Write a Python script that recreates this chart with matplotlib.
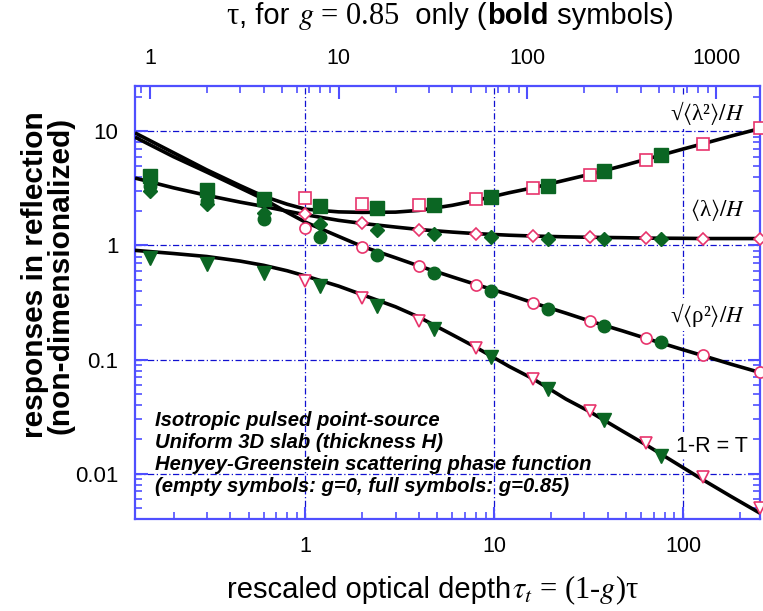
import matplotlib
matplotlib.use('Agg')
import matplotlib.pyplot as plt
from matplotlib.ticker import LogLocator, FixedLocator, FixedFormatter, NullFormatter
from matplotlib.offsetbox import TextArea, HPacker, AnchoredOffsetbox

plt.rcParams['font.family'] = ['Liberation Sans', 'DejaVu Sans']
plt.rcParams['mathtext.fontset'] = 'stix'

one_minus_g = 0.15   # g = 0.85 -> tau_t = 0.15 tau

# fitted curves, read along the rescaled optical depth tau_t
curve_x = [0.125, 0.2, 0.3, 0.45, 0.6, 0.8, 1, 1.5, 2, 3, 4, 6, 8, 12, 16, 24,
           32, 48, 64, 100, 128, 180, 256]
lam2_curve = [9.7, 6.5, 4.6, 3.35, 2.7, 2.3, 2.08, 1.97, 1.95, 1.96, 2.03, 2.25,
              2.48, 2.9, 3.2, 3.75, 4.2, 5.0, 5.7, 7.0, 7.8, 9.1, 10.6]
lam_curve = [3.9, 3.2, 2.75, 2.4, 2.2, 2.0, 1.86, 1.66, 1.56, 1.45, 1.38, 1.31,
             1.27, 1.23, 1.21, 1.19, 1.18, 1.17, 1.16, 1.155, 1.15, 1.15, 1.15]
rho_curve = [8.9, 6.0, 4.4, 3.2, 2.55, 1.95, 1.6, 1.2, 0.98, 0.78, 0.66, 0.53,
             0.455, 0.37, 0.315, 0.255, 0.218, 0.178, 0.153, 0.122, 0.108, 0.091, 0.077]
T_curve = [0.906, 0.85, 0.80, 0.73, 0.67, 0.60, 0.54, 0.44, 0.37, 0.29, 0.235, 0.165,
           0.128, 0.087, 0.068, 0.045, 0.035, 0.0235, 0.0178, 0.0113, 0.0088, 0.0063, 0.0045]

# g = 0 (empty symbols), tau_t = tau
tau_g0 = [1, 2, 4, 8, 16, 32, 64, 128, 256]
lam2_g0 = [2.61, 2.31, 2.28, 2.57, 3.19, 4.11, 5.65, 7.76, 10.8]
lam_g0 = [1.89, 1.57, 1.38, 1.27, 1.22, 1.19, 1.16, 1.15, 1.15]
rho_g0 = [1.42, 0.96, 0.656, 0.453, 0.313, 0.219, 0.155, 0.110, 0.0772]
T_g0 = [0.485, 0.347, 0.219, 0.125, 0.0676, 0.0356, 0.0186, 0.0093, 0.0050]

# g = 0.85 (full symbols), given in tau
tau_g85 = [1, 2, 4, 8, 16, 32, 64, 128, 256, 512]
lam2_g85 = [4.03, 3.08, 2.56, 2.23, 2.13, 2.25, 2.66, 3.34, 4.46, 6.16]
lam_g85 = [2.98, 2.32, 1.93, 1.55, 1.38, 1.27, 1.19, 1.14, 1.14, 1.15]
rho_g85 = [3.3, 2.47, 1.72, 1.18, 0.82, 0.574, 0.402, 0.278, 0.195, 0.1415]
T_g85 = [0.777, 0.689, 0.574, 0.438, 0.297, 0.187, 0.105, 0.0552, 0.0293, 0.0142]

top_ticks = [1, 10, 100, 1000]
bottom_ticks = [1, 10, 100]
y_ticks = [0.01, 0.1, 1, 10]
y_ticklabels = ['0.01', '0.1', '1', '10']

spine_blue = '#4f4fff'
grid_blue = '#1010d0'
green = '#0b6623'
pink = '#e8346c'

fig = plt.figure(figsize=(7.63, 6.11), dpi=100)
ax = fig.add_axes([135 / 763, 92 / 611, 625 / 763, 433 / 611])
ax.set_xscale('log')
ax.set_yscale('log')
ax.set_xlim(0.125, 256)
ax.set_ylim(0.004, 25)

ax.grid(True, which='major', color=grid_blue, lw=0.9, ls=(0, (5, 2, 1, 2)), zorder=0)

for yc in [lam2_curve, lam_curve, rho_curve, T_curve]:
    ax.plot(curve_x, yc, color='black', lw=2.6, zorder=3, solid_capstyle='butt')

mk = dict(ls='none', mfc='white', mec=pink, mew=1.2, zorder=4, clip_on=False)
ax.plot(tau_g0, lam2_g0, marker='s', ms=9, **mk)
ax.plot(tau_g0, lam_g0, marker='D', ms=6.5, **mk)
ax.plot(tau_g0, rho_g0, marker='o', ms=8, **mk)
ax.plot(tau_g0, T_g0, marker='v', ms=9, **mk)

tt85 = [t * one_minus_g for t in tau_g85]
fk = dict(ls='none', color=green, mec=green, zorder=5)
ax.plot(tt85, T_g85, marker='v', ms=10, **fk)
ax.plot(tt85, rho_g85, marker='o', ms=9, **fk)
ax.plot(tt85, lam_g85, marker='D', ms=7.5, **fk)
ax.plot(tt85, lam2_g85, marker='s', ms=10, **fk)

for s in ax.spines.values():
    s.set_color(spine_blue)
    s.set_linewidth(1.6)

ax.xaxis.set_major_locator(FixedLocator(bottom_ticks))
ax.xaxis.set_major_formatter(FixedFormatter([str(v) for v in bottom_ticks]))
ax.xaxis.set_minor_locator(LogLocator(base=10, subs=range(2, 10), numticks=20))
ax.xaxis.set_minor_formatter(NullFormatter())
ax.yaxis.set_major_locator(FixedLocator(y_ticks))
ax.yaxis.set_major_formatter(FixedFormatter(y_ticklabels))
ax.yaxis.set_minor_locator(LogLocator(base=10, subs=range(2, 10), numticks=20))
ax.yaxis.set_minor_formatter(NullFormatter())
ax.tick_params(which='both', direction='in', color=spine_blue, top=False, right=True)
ax.tick_params(which='major', length=9, width=1.5)
ax.tick_params(which='minor', length=5, width=1.2)
ax.tick_params(axis='x', labelsize=15.5, pad=12)
ax.tick_params(axis='y', labelsize=16, pad=12)

ax2 = ax.twiny()
ax2.set_xscale('log')
ax2.set_xlim(0.125 / one_minus_g, 256 / one_minus_g)
ax2.xaxis.set_major_locator(FixedLocator(top_ticks))
ax2.xaxis.set_major_formatter(FixedFormatter([str(v) for v in top_ticks]))
ax2.xaxis.set_minor_locator(LogLocator(base=10, subs=range(2, 10), numticks=20))
ax2.xaxis.set_minor_formatter(NullFormatter())
ax2.tick_params(which='both', direction='in', color=spine_blue)
ax2.tick_params(which='major', length=9, width=1.5, labelsize=15.5, pad=12)
ax2.tick_params(which='minor', length=5, width=1.2)
for s in ax2.spines.values():
    s.set_visible(False)

# curve labels
serif = ['Liberation Serif', 'DejaVu Serif']
box = dict(facecolor='white', edgecolor='none', pad=1.5)
ax.text(213, 14.6, '√$\\langle$λ²$\\rangle/H$', family=serif, fontsize=16.5,
        ha='right', va='center', bbox=box, zorder=6)
ax.text(213, 2.06, '$\\langle$λ$\\rangle/H$', family=serif, fontsize=16.5,
        ha='right', va='center', bbox=box, zorder=6)
ax.text(213, 0.248, '√$\\langle$ρ²$\\rangle/H$', family=serif, fontsize=16.5,
        ha='right', va='center', bbox=box, zorder=6)
ax.text(222, 0.0174, '1-R = T', fontsize=15.5, ha='right', va='center',
        bbox=box, zorder=6)

ax.text(0.032, 0.152, 'Isotropic pulsed point-source\nUniform 3D slab (thickness H)\n'
        'Henyey-Greenstein scattering phase function\n'
        '(empty symbols: g=0, full symbols: g=0.85)',
        transform=ax.transAxes, fontsize=14.6, fontweight='bold', style='italic',
        ha='left', va='center', linespacing=1.2, zorder=6)

# y label
fig.text(48 / 763, 1 - 275 / 611, 'responses in reflection\n(non-dimensionalized)',
         rotation=90, fontsize=21.5, fontweight='bold', ha='center', va='center',
         multialignment='center', linespacing=0.88)

# top label, mixed fonts
sans = dict(fontsize=21, family=['Liberation Sans', 'DejaVu Sans'])
srf = dict(fontsize=22, family=serif)
title = HPacker(children=[
    TextArea('τ', textprops=srf),
    TextArea(', for ', textprops=sans),
    TextArea('$g$ = 0.85', textprops=srf),
    TextArea('  only (', textprops=sans),
    TextArea('bold', textprops=dict(sans, fontweight='bold')),
    TextArea(' symbols)', textprops=sans),
], align='baseline', pad=0, sep=0)
fig.add_artist(AnchoredOffsetbox(loc='center', child=title, frameon=False, pad=0,
                                 bbox_to_anchor=(450 / 763, 1 - 16 / 611),
                                 bbox_transform=fig.transFigure))

xlab = HPacker(children=[
    TextArea('rescaled optical depth', textprops=sans),
    TextArea('$\\tau_t$ = (1-$g$)τ', textprops=srf),
], align='baseline', pad=0, sep=0)
fig.add_artist(AnchoredOffsetbox(loc='center', child=xlab, frameon=False, pad=0,
                                 bbox_to_anchor=(433 / 763, 1 - 590 / 611),
                                 bbox_transform=fig.transFigure))

fig.savefig('out.png', dpi=100)
